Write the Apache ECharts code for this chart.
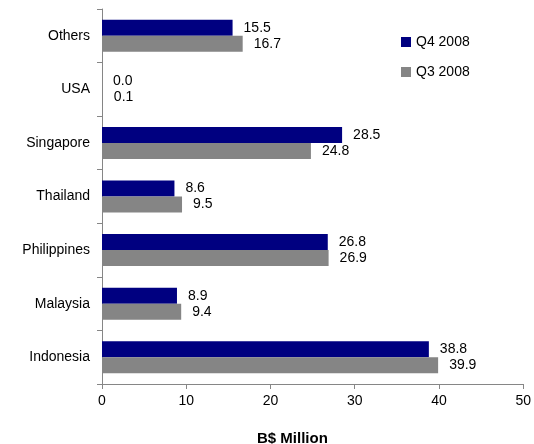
<!DOCTYPE html>
<html>
<head>
<meta charset="utf-8">
<script src="https://cdn.jsdelivr.net/npm/echarts@6/dist/echarts.min.js"></script>
<style>
  html, body { margin: 0; padding: 0; background: #fff; }
  #chart { width: 534px; height: 444px; }
</style>
</head>
<body>
<div id="chart"></div>
<script>
// Countries, listed bottom to top on the category axis
const categories = ['Indonesia', 'Malaysia', 'Philippines', 'Thailand', 'Singapore', 'USA', 'Others'];
// B$ Million per quarter
const q4_2008 = [38.8, 8.9, 26.8, 8.6, 28.5, 0.0, 15.5];
const q3_2008 = [39.9, 9.4, 26.9, 9.5, 24.8, 0.1, 16.7];
const xTicks = [0, 10, 20, 30, 40, 50];

const FONT = '"Liberation Sans", Arial, sans-serif';
const FS = 14;
const AXIS_GREY = '#868686';

const labelStyle = {
  show: true,
  position: 'right',
  distance: 11,
  color: '#000',
  fontFamily: FONT,
  fontSize: FS,
  formatter: p => Number(p.value).toFixed(1)
};

const chart = echarts.init(document.getElementById('chart'), null, { renderer: 'canvas' });
chart.setOption({
  animation: false,
  backgroundColor: '#fff',
  textStyle: { fontFamily: FONT },
  title: {
    text: 'B$ Million',
    left: 257,
    top: 431,
    padding: 0,
    textStyle: { fontFamily: FONT, fontSize: 15, fontWeight: 'bold', color: '#000' }
  },
  legend: {
    data: ['Q4 2008', 'Q3 2008'],
    orient: 'vertical',
    left: 401,
    top: 35,
    padding: 0,
    itemWidth: 10,
    itemHeight: 10,
    itemGap: 16,
    icon: 'rect',
    textStyle: { fontFamily: FONT, fontSize: FS, color: '#000' }
  },
  grid: { left: 102, right: 7, top: 9, bottom: 60, containLabel: false },
  xAxis: {
    type: 'value',
    min: xTicks[0],
    max: xTicks[xTicks.length - 1],
    interval: xTicks[1] - xTicks[0],
    axisLine: { show: true, lineStyle: { color: AXIS_GREY, width: 1 } },
    axisTick: { show: true, length: 5, lineStyle: { color: AXIS_GREY } },
    splitLine: { show: false },
    axisLabel: { color: '#000', fontFamily: FONT, fontSize: FS, margin: 10 }
  },
  yAxis: {
    type: 'category',
    data: categories,
    axisLine: { show: true, lineStyle: { color: AXIS_GREY, width: 1 } },
    axisTick: { show: true, length: 5, alignWithLabel: false, lineStyle: { color: AXIS_GREY } },
    axisLabel: { color: '#000', fontFamily: FONT, fontSize: FS, margin: 12 }
  },
  series: [
    {
      name: 'Q4 2008',
      type: 'bar',
      data: q4_2008,
      barWidth: 16,
      barGap: '0%',
      itemStyle: { color: '#000080' },
      label: labelStyle
    },
    {
      name: 'Q3 2008',
      type: 'bar',
      data: q3_2008,
      barWidth: 16,
      barGap: '0%',
      itemStyle: { color: '#858585' },
      label: labelStyle
    }
  ]
});
</script>
</body>
</html>
